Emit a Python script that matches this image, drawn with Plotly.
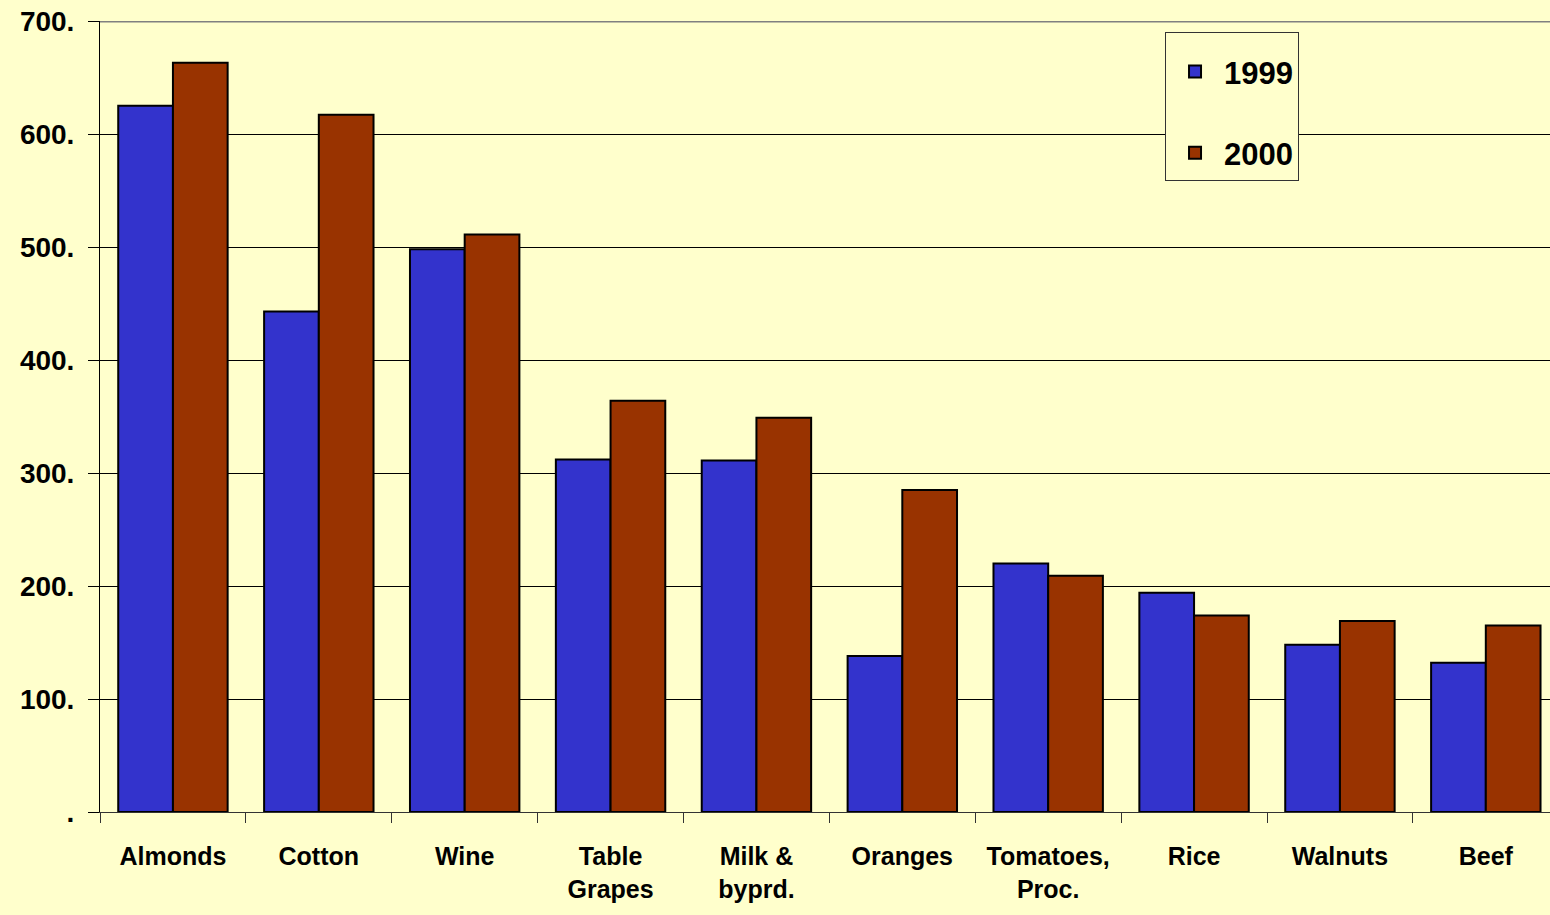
import plotly.graph_objects as go

categories = ["Almonds", "Cotton", "Wine", "Table<br>Grapes", "Milk &<br>byprd.",
              "Oranges", "Tomatoes,<br>Proc.", "Rice", "Walnuts", "Beef"]
values_1999 = [625, 443, 498, 312, 311, 138, 220, 194, 148, 132]
values_2000 = [663, 617, 511, 364, 349, 285, 209, 174, 169, 165]
y_tickvals = [0, 100, 200, 300, 400, 500, 600, 700]
y_ticktext = [".", "100.", "200.", "300.", "400.", "500.", "600.", "700."]

BG = "#FFFFCC"
FONT = "Liberation Sans, Arial, sans-serif"

fig = go.Figure()
fig.add_trace(go.Bar(name="1999", x=categories, y=values_1999,
                     marker=dict(color="#3333CC", line=dict(color="black", width=2)),
                     legendgroup="a"))
fig.add_trace(go.Bar(name="2000", x=categories, y=values_2000,
                     marker=dict(color="#993300", line=dict(color="black", width=2)),
                     legendgroup="b"))

fig.update_layout(
    width=1550, height=915,
    margin=dict(l=100, r=0, t=21, b=103),
    paper_bgcolor=BG, plot_bgcolor=BG,
    font=dict(family=FONT, color="black", weight="bold"),
    barmode="group", bargap=0.25, bargroupgap=0,
    legend=dict(
        x=0.7345, y=0.986, xanchor="left", yanchor="top",
        bgcolor=BG, bordercolor="#333333", borderwidth=1,
        font=dict(size=31, family=FONT, weight="bold"),
        tracegroupgap=38, traceorder="grouped",
        itemwidth=48,
        entrywidth=160, entrywidthmode="pixels",
        title=dict(text="&nbsp;", font=dict(size=9)),
    ),
    showlegend=True,
)

fig.update_xaxes(
    type="category", range=[-0.5, 9.44],
    tickson="boundaries", ticks="outside", ticklen=10, tickcolor="#333333",
    showline=True, linecolor="#333333", linewidth=1,
    showgrid=False,
    tickfont=dict(size=25, family=FONT, weight="bold"),
    ticklabelstandoff=22,
)
fig.update_yaxes(
    range=[0, 700], tickvals=y_tickvals, ticktext=y_ticktext,
    ticks="outside", ticklen=11, tickcolor="black",
    showline=True, linecolor="black", linewidth=1,
    showgrid=True, gridcolor="black", gridwidth=1,
    zeroline=False,
    tickfont=dict(size=28, family=FONT, weight="bold"),
    ticklabelstandoff=8,
)
fig.add_shape(type="line", xref="paper", yref="y", x0=0, x1=1, y0=700, y1=700,
              line=dict(color="#808080", width=3), layer="above")

fig.write_html("out.html")
